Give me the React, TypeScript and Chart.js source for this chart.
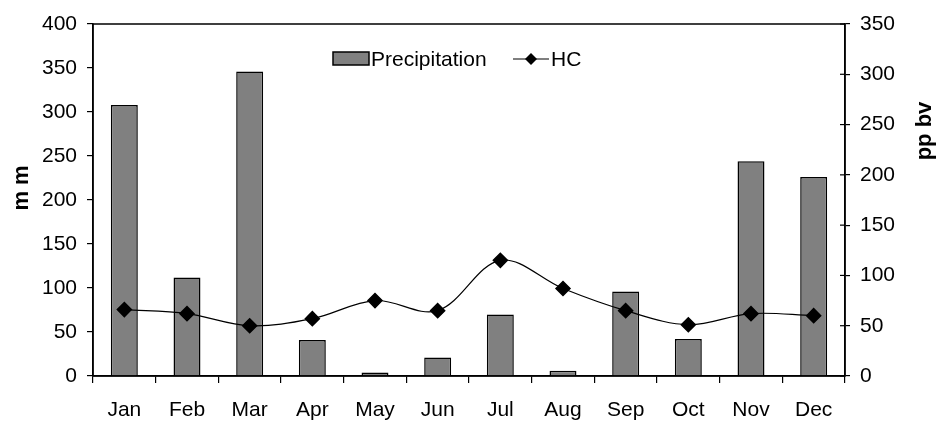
import React, { useEffect, useRef } from "react";
import { Chart, registerables } from "chart.js";

Chart.register(...registerables);

const months = ["Jan", "Feb", "Mar", "Apr", "May", "Jun", "Jul", "Aug", "Sep", "Oct", "Nov", "Dec"];
const precipitation = [308, 112, 346, 41, 4, 21, 70, 6, 96, 42, 244, 226];
const hc = [66, 62, 50, 57, 75, 65, 115, 87, 65, 51, 62, 60];
const leftTicks = [0, 50, 100, 150, 200, 250, 300, 350, 400];
const rightTicks = [0, 50, 100, 150, 200, 250, 300, 350];

const FONT = "'Liberation Sans', Arial, sans-serif";

const framePlugin = {
  id: "frameAndLegend",
  afterDraw(chart: any) {
    const { ctx, chartArea } = chart;
    const { left, right, top, bottom } = chartArea;
    ctx.save();
    ctx.strokeStyle = "#000";
    ctx.lineWidth = 1.5;
    ctx.strokeRect(left, top, right - left, bottom - top);
    const y1 = chart.scales.y1;
    ctx.lineWidth = 1.2;
    for (const t of rightTicks) {
      const yy = y1.getPixelForValue(t);
      ctx.beginPath();
      ctx.moveTo(right - 5, yy);
      ctx.lineTo(right, yy);
      ctx.stroke();
    }
    const ds0 = chart.data.datasets[0];
    const ds1 = chart.data.datasets[1];
    const ly = 59;
    ctx.fillStyle = "#808080";
    ctx.fillRect(333, 52, 36, 13);
    ctx.lineWidth = 1.5;
    ctx.strokeRect(333, 52, 36, 13);
    ctx.fillStyle = "#000";
    ctx.font = `21px ${FONT}`;
    ctx.textBaseline = "middle";
    ctx.textAlign = "left";
    ctx.fillText(ds0.label, 371, ly + 1);
    ctx.beginPath();
    ctx.lineWidth = 1.2;
    ctx.moveTo(513, ly);
    ctx.lineTo(549, ly);
    ctx.stroke();
    ctx.beginPath();
    ctx.moveTo(531, ly - 6);
    ctx.lineTo(537, ly);
    ctx.lineTo(531, ly + 6);
    ctx.lineTo(525, ly);
    ctx.closePath();
    ctx.fill();
    ctx.fillText(ds1.label, 551, ly + 1);
    ctx.font = `bold 22px ${FONT}`;
    ctx.textAlign = "center";
    ctx.save();
    ctx.translate(22, 188);
    ctx.rotate(-Math.PI / 2);
    ctx.fillText("m m", 0, 0);
    ctx.restore();
    ctx.save();
    ctx.translate(925, 131);
    ctx.rotate(-Math.PI / 2);
    ctx.fillText("pp bv", 0, 0);
    ctx.restore();
    ctx.restore();
  },
};

export default function App() {
  const ref = useRef<HTMLCanvasElement>(null);
  useEffect(() => {
    document.body.style.margin = "0";
    const chart = new Chart(ref.current!, {
      type: "bar",
      data: {
        labels: months,
        datasets: [
          {
            type: "bar",
            label: "Precipitation",
            data: precipitation,
            backgroundColor: "#808080",
            borderColor: "#000",
            borderWidth: 1.5,
            categoryPercentage: 1,
            barPercentage: 0.43,
            yAxisID: "y",
            order: 2,
          },
          {
            type: "line",
            label: "HC",
            data: hc,
            borderColor: "#000",
            borderWidth: 1.2,
            backgroundColor: "#000",
            pointStyle: "rectRot",
            pointRadius: 7,
            pointBorderWidth: 1.5,
            tension: 0.35,
            yAxisID: "y1",
            order: 1,
          },
        ] as any,
      },
      options: {
        animation: false,
        responsive: true,
        maintainAspectRatio: false,
        layout: { padding: { top: 24, bottom: 0, left: 0, right: 0 } },
        plugins: { legend: { display: false }, tooltip: { enabled: false } },
        scales: {
          x: {
            grid: { drawOnChartArea: false, drawTicks: true, tickLength: 7, color: "#000", lineWidth: 1.2 },
            border: { color: "#000", width: 1.5 },
            ticks: { color: "#000", font: { family: FONT, size: 21 }, padding: 15 },
            afterFit: (s: any) => { s.height = 46; },
          },
          y: {
            position: "left",
            min: 0,
            max: 400,
            afterBuildTicks: (s: any) => { s.ticks = leftTicks.map((v) => ({ value: v })); },
            grid: { drawOnChartArea: false, drawTicks: true, tickLength: 6, color: "#000", lineWidth: 1.2 },
            border: { color: "#000", width: 1.5 },
            ticks: { color: "#000", font: { family: FONT, size: 21 }, padding: 10 },
            afterFit: (s: any) => { s.width = 93; },
          },
          y1: {
            position: "right",
            min: 0,
            max: 350,
            afterBuildTicks: (s: any) => { s.ticks = rightTicks.map((v) => ({ value: v })); },
            grid: { drawOnChartArea: false, drawTicks: true, tickLength: 5, color: "#000", lineWidth: 1.2 },
            border: { color: "#000", width: 1.5 },
            ticks: { color: "#000", font: { family: FONT, size: 21 }, padding: 10 },
            afterFit: (s: any) => { s.width = 94; },
          },
        },
      } as any,
      plugins: [framePlugin],
    });
    return () => chart.destroy();
  }, []);
  return (
    <div style={{ position: "fixed", left: 0, top: 0, width: 939, height: 422, background: "#fff" }}>
      <canvas ref={ref} />
    </div>
  );
}
